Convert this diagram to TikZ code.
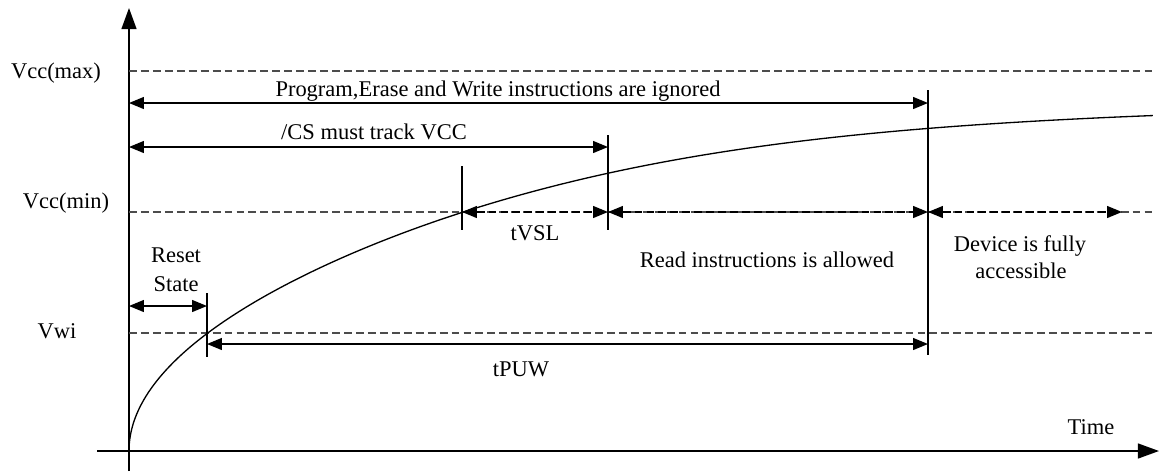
\documentclass[tikz,border=0pt]{standalone}
\usepackage{fontspec}
\setmainfont{Liberation Serif}
\usetikzlibrary{arrows.meta}
\begin{document}
\begin{tikzpicture}[x=0.02cm,y=-0.02cm,
  line width=0.75pt,
  lbl/.style={inner sep=0pt,anchor=base,font=\fontsize{12.8}{15}\selectfont},
  lvl/.style={dashed,dash pattern=on 4.5pt off 2.3pt,draw=black!70},
  dim/.style={{Triangle[length=8.5pt,width=6.8pt]}-{Triangle[length=8.5pt,width=6.8pt]}},
  dimd/.style={dim,dash pattern=on 4.5pt off 2.3pt},
  axis/.style={-{Triangle[length=12pt,width=8.5pt]},line width=0.9pt},
  tickline/.style={line width=0.75pt}]
\useasboundingbox (0,0) rectangle (1160,471);
% axes
\coordinate (Ybot) at (129,471);
\coordinate (Ytop) at (129,8);
\coordinate (Xl) at (97,451);
\coordinate (Xr) at (1159,451);
\draw[axis] (Ybot) -- (Ytop);
\draw[axis] (Xl) -- (Xr);
% level lines
\coordinate (max0) at (129,71);  \coordinate (max1) at (1153,71);
\coordinate (min0) at (129,212); \coordinate (min1) at (1153,212);
\coordinate (vwi0) at (129,333); \coordinate (vwi1) at (1153,333);
\draw[lvl] (max0) -- (max1);
\draw[lvl] (min0) -- (min1);
\draw[lvl] (vwi0) -- (vwi1);
% vertical markers
\coordinate (a0) at (207,293); \coordinate (a1) at (207,357);
\coordinate (b0) at (462,166); \coordinate (b1) at (462,230);
\coordinate (c0) at (608,135); \coordinate (c1) at (608,230);
\coordinate (d0) at (928,90);  \coordinate (d1) at (928,355);
\draw[tickline] (a0) -- (a1);
\draw[tickline] (b0) -- (b1);
\draw[tickline] (c0) -- (c1);
\draw[tickline] (d0) -- (d1);
% curve
\draw[line width=0.75pt] plot[variable=\s,domain=0:32,samples=140,smooth]
  ({129+\s*\s},{451-13.3*\s/((1+(\s*\s/696.96)^3)^(1/6))});
% dimension arrows
\coordinate (p0) at (129,103); \coordinate (p1) at (928,103);
\coordinate (q0) at (129,147); \coordinate (q1) at (608,147);
\coordinate (r0) at (129,306); \coordinate (r1) at (207,306);
\coordinate (t0) at (207,344); \coordinate (t1) at (928,344);
\coordinate (v0) at (462,212); \coordinate (v1) at (608,212);
\coordinate (w1) at (928,212);
\coordinate (z1) at (1122,212);
\draw[dim] (p0) -- (p1);
\draw[dim] (q0) -- (q1);
\draw[dim] (r0) -- (r1);
\draw[dim] (t0) -- (t1);
\draw[dimd] (v0) -- (v1);
\draw[dimd] (v1) -- (w1);
\draw[dimd] (w1) -- (z1);
% labels
\node[lbl] (lmax) at (56,78) {Vcc(max)};
\node[lbl] (lmin) at (66,208) {Vcc(min)};
\node[lbl] (lvwi) at (57,338) {Vwi};
\node[lbl] (lprog) at (498,96) {Program,Erase and Write instructions are ignored};
\node[lbl] (lcs) at (374,139) {/CS must track VCC};
\node[lbl] (ltvsl) at (535,240) {tVSL};
\node[lbl] (lread) at (767,267) {Read instructions is allowed};
\node[lbl] (ldev1) at (1020,251) {Device is fully};
\node[lbl] (ldev2) at (1021,278) {accessible};
\node[lbl] (lres1) at (176,262) {Reset};
\node[lbl] (lres2) at (176,291) {State};
\node[lbl] (ltpuw) at (521,376) {tPUW};
\node[lbl] (ltime) at (1091,434) {Time};
\end{tikzpicture}
\end{document}
